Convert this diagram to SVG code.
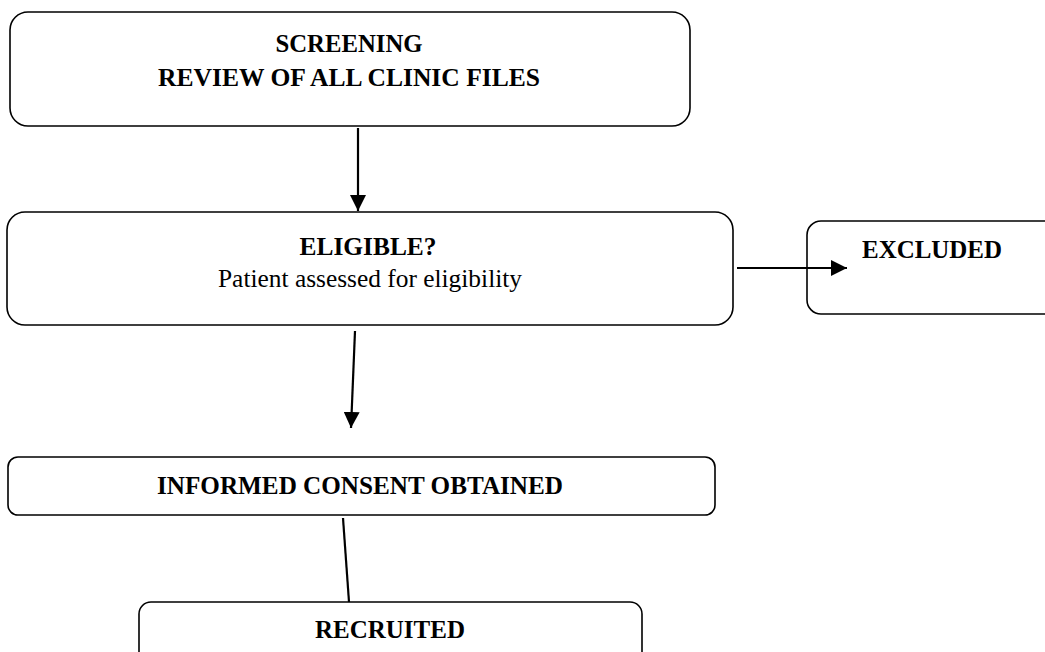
<svg xmlns="http://www.w3.org/2000/svg" width="1045" height="652" viewBox="0 0 1045 652">
<style>
.box{fill:#fff;stroke:#000;stroke-width:1.6}
.t{font-family:"Liberation Serif","Times New Roman",serif;font-size:26px;fill:#000;text-anchor:middle}
.b{font-weight:bold}
.c{stroke:#000;stroke-width:2.2;fill:none}
</style>
<defs>
<marker id="ah" markerUnits="userSpaceOnUse" markerWidth="16" markerHeight="16" viewBox="0 0 16 16" refX="16" refY="8" orient="auto">
<path d="M0,0 L16,8 L0,16 Z" fill="#000"/>
</marker>
</defs>
<rect width="1045" height="652" fill="#fff"/>
<g id="screening">
<rect class="box" x="10" y="12" width="680" height="114" rx="18"/>
<text class="t b" x="349" y="52" textLength="147" lengthAdjust="spacingAndGlyphs">SCREENING</text>
<text class="t b" x="349" y="86" textLength="382" lengthAdjust="spacingAndGlyphs">REVIEW OF ALL CLINIC FILES</text>
</g>
<g id="eligible">
<rect class="box" x="7" y="212" width="726" height="113" rx="18"/>
<text class="t b" x="368" y="255" textLength="137" lengthAdjust="spacingAndGlyphs">ELIGIBLE?</text>
<text class="t" x="370" y="287" textLength="304" lengthAdjust="spacingAndGlyphs">Patient assessed for eligibility</text>
</g>
<g id="excluded">
<rect class="box" x="807" y="221" width="260" height="93" rx="14"/>
<text class="t b" x="932" y="258" textLength="140" lengthAdjust="spacingAndGlyphs">EXCLUDED</text>
</g>
<g id="consent">
<rect class="box" x="8" y="457" width="707" height="58" rx="10"/>
<text class="t b" x="360" y="494" textLength="406" lengthAdjust="spacingAndGlyphs">INFORMED CONSENT OBTAINED</text>
</g>
<g id="recruited">
<rect class="box" x="139" y="602" width="503" height="80" rx="12"/>
<text class="t b" x="390" y="638" textLength="150" lengthAdjust="spacingAndGlyphs">RECRUITED</text>
</g>
<g id="connectors">
<line class="c" x1="358" y1="128" x2="358" y2="211" marker-end="url(#ah)"/>
<line class="c" x1="737" y1="268" x2="847" y2="268" marker-end="url(#ah)"/>
<line class="c" x1="355" y1="331" x2="351" y2="428" marker-end="url(#ah)"/>
<line class="c" x1="343" y1="518" x2="349" y2="602"/>
</g>
</svg>
